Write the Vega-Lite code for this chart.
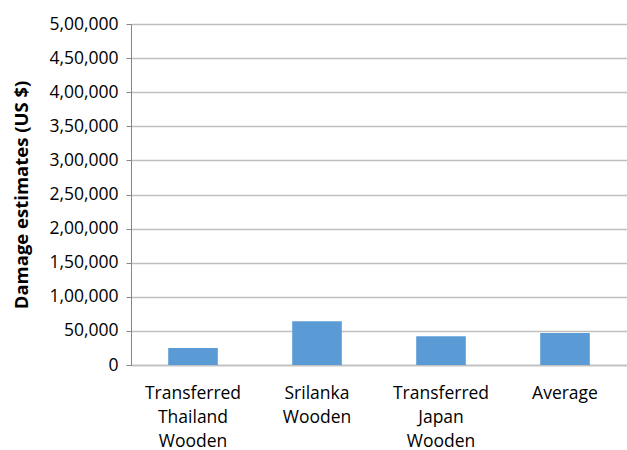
{
  "$schema": "https://vega.github.io/schema/vega-lite/v6.json",
  "autosize": "none",
  "width": 496,
  "height": 341,
  "padding": {"left": 131, "top": 24, "right": 0, "bottom": 85},
  "background": "white",
  "config": {
    "view": {"stroke": null},
    "font": "Open Sans"
  },
  "data": {
    "values": [
      {"category": "Transferred Thailand Wooden", "damage": 25000},
      {"category": "Srilanka Wooden", "damage": 64000},
      {"category": "Transferred Japan Wooden", "damage": 42000},
      {"category": "Average", "damage": 47000}
    ]
  },
  "mark": {"type": "bar", "color": "#5B9BD5"},
  "encoding": {
    "x": {
      "field": "category",
      "type": "nominal",
      "sort": null,
      "scale": {"paddingInner": 0.6, "paddingOuter": 0.3},
      "axis": {
        "title": null,
        "labelAngle": 0,
        "labelExpr": "split(datum.label, ' ')",
        "labelFont": "Open Sans",
        "labelFontSize": 17.5,
        "labelColor": "#000000",
        "labelLineHeight": 24,
        "labelPadding": 19,
        "ticks": false,
        "domainColor": "#bfbfbf",
        "domainWidth": 1.5
      }
    },
    "y": {
      "field": "damage",
      "type": "quantitative",
      "scale": {"domain": [0, 500000], "nice": false},
      "axis": {
        "title": "Damage estimates (US $)",
        "titleFont": "Open Sans",
        "titleFontSize": 18.5,
        "titleFontWeight": "bold",
        "titleColor": "#000000",
        "titlePadding": 17,
        "values": [0, 50000, 100000, 150000, 200000, 250000, 300000, 350000, 400000, 450000, 500000],
        "labelExpr": "datum.value >= 100000 ? floor(datum.value / 100000) + ',' + (datum.value % 100000 == 0 ? '00,000' : format(datum.value % 100000, ',')) : format(datum.value, ',')",
        "labelFont": "Open Sans",
        "labelFontSize": 17.5,
        "labelColor": "#000000",
        "labelPadding": 8,
        "tickSize": 5,
        "tickColor": "#868686",
        "domainColor": "#868686",
        "grid": true,
        "gridColor": "#bfbfbf",
        "gridWidth": 1.3
      }
    }
  }
}
